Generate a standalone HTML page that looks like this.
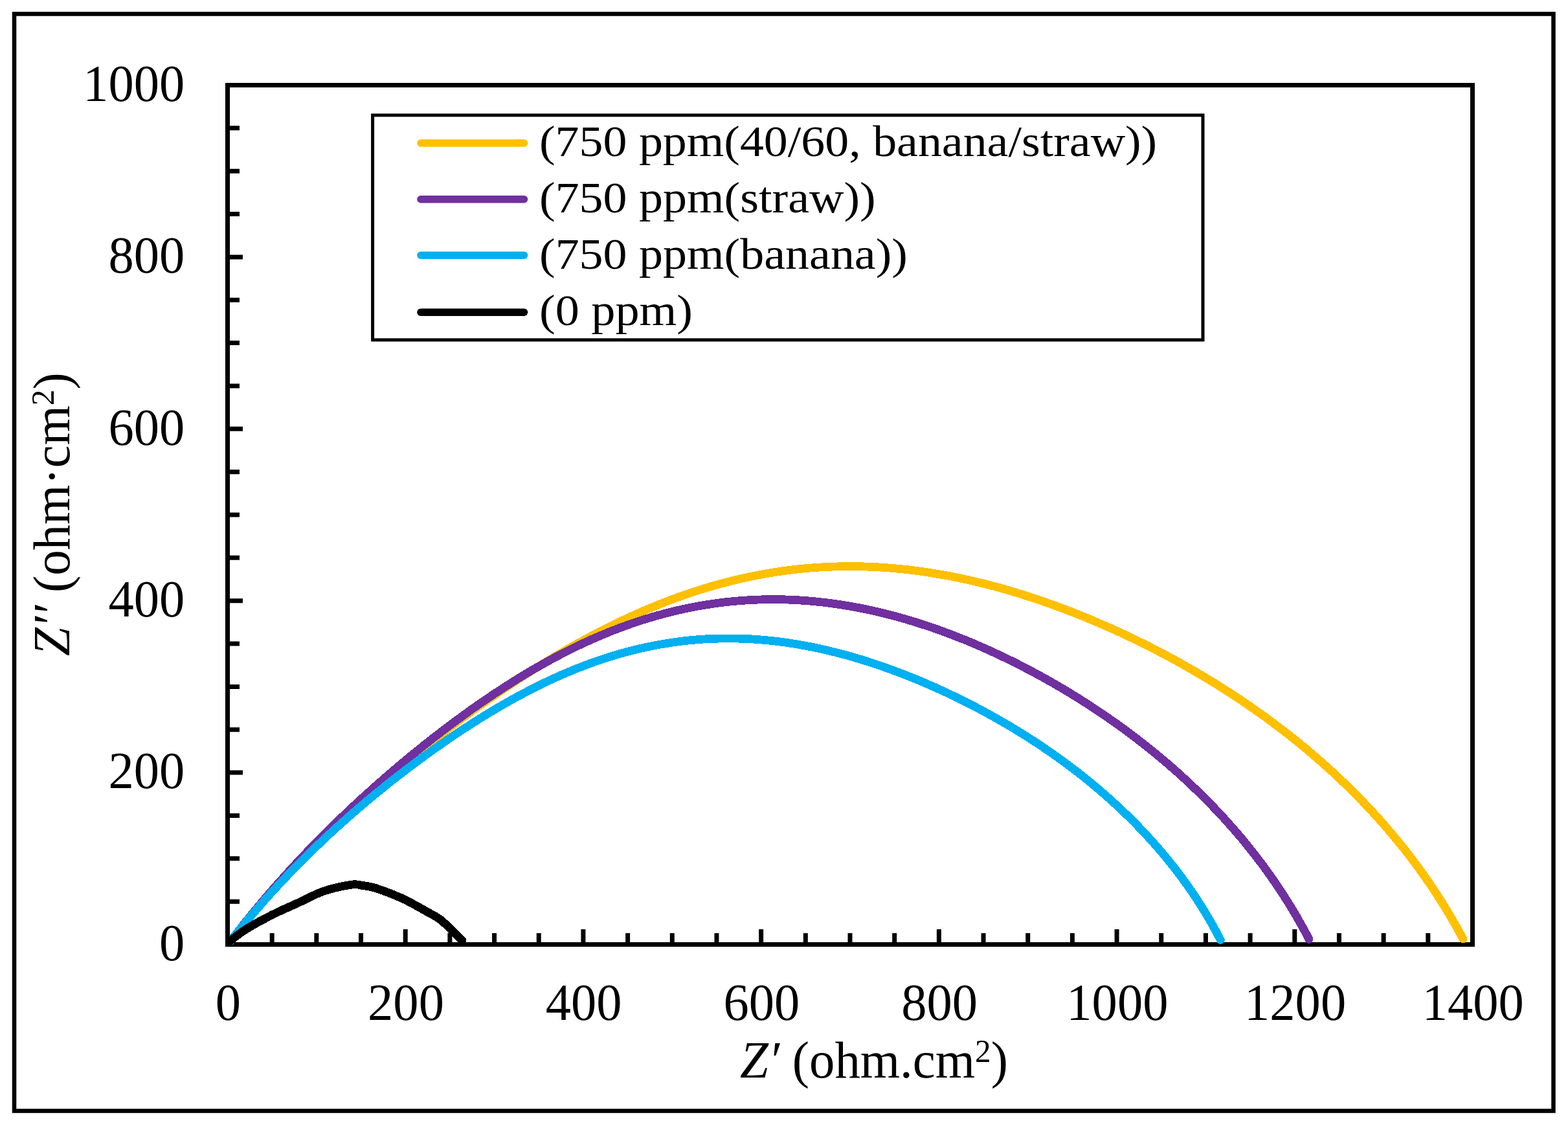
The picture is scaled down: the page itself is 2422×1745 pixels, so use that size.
<!DOCTYPE html>
<html><head><meta charset="utf-8"><title>Nyquist plot</title><style>html,body{margin:0;padding:0;background:#fff;overflow:hidden}svg{display:block}</style></head><body>
<svg width="2422" height="1745" viewBox="0 0 2422 1745">
<defs><clipPath id="pa"><rect x="352" y="132" width="1922" height="1327"/></clipPath>
<clipPath id="pk"><rect x="352" y="132" width="368" height="1327"/></clipPath></defs>
<rect width="2422" height="1745" fill="#fff"/>
<rect x="22" y="21.5" width="2377.5" height="1694" fill="none" stroke="#000" stroke-width="6.5"/>
<g stroke="#000" stroke-width="7" fill="none">
<rect x="351.5" y="131.5" width="1923.0" height="1327.0"/>
<path d="M351.5,1392.15h18.5M351.5,1325.80h18.5M351.5,1259.45h18.5M351.5,1193.10h23.5M351.5,1126.75h18.5M351.5,1060.40h18.5M351.5,994.05h18.5M351.5,927.70h23.5M351.5,861.35h18.5M351.5,795.00h18.5M351.5,728.65h18.5M351.5,662.30h23.5M351.5,595.95h18.5M351.5,529.60h18.5M351.5,463.25h18.5M351.5,396.90h23.5M351.5,330.55h18.5M351.5,264.20h18.5M351.5,197.85h18.5M420.18,1458.5v-17.5M488.86,1458.5v-17.5M557.54,1458.5v-17.5M626.21,1458.5v-23.5M694.89,1458.5v-17.5M763.57,1458.5v-17.5M832.25,1458.5v-17.5M900.93,1458.5v-23.5M969.61,1458.5v-17.5M1038.29,1458.5v-17.5M1106.96,1458.5v-17.5M1175.64,1458.5v-23.5M1244.32,1458.5v-17.5M1313.00,1458.5v-17.5M1381.68,1458.5v-17.5M1450.36,1458.5v-23.5M1519.04,1458.5v-17.5M1587.71,1458.5v-17.5M1656.39,1458.5v-17.5M1725.07,1458.5v-23.5M1793.75,1458.5v-17.5M1862.43,1458.5v-17.5M1931.11,1458.5v-17.5M1999.79,1458.5v-23.5M2068.46,1458.5v-17.5M2137.14,1458.5v-17.5M2205.82,1458.5v-17.5" stroke-linecap="butt"/>
</g>
<g fill="none" stroke-linecap="round" stroke-linejoin="round" clip-path="url(#pa)" shape-rendering="crispEdges">
<path d="M352.4,1458.5 L360.1,1448.6 L367.8,1438.8 L375.5,1429.3 L383.2,1419.8 L390.9,1410.5 L398.6,1401.4 L406.2,1392.4 L413.9,1383.6 L421.5,1374.9 L429.1,1366.3 L436.7,1357.9 L444.2,1349.6 L451.8,1341.5 L459.3,1333.4 L466.8,1325.5 L474.2,1317.8 L481.6,1310.1 L489.0,1302.6 L496.4,1295.2 L503.7,1287.9 L511.1,1280.8 L518.3,1273.7 L525.6,1266.8 L532.8,1259.9 L540.0,1253.2 L547.1,1246.6 L554.2,1240.0 L561.3,1233.6 L568.3,1227.3 L575.3,1221.0 L582.3,1214.9 L589.2,1208.8 L596.1,1202.9 L603.0,1197.0 L609.8,1191.2 L616.6,1185.5 L623.4,1179.9 L630.1,1174.3 L636.8,1168.8 L643.4,1163.4 L650.1,1158.1 L656.6,1152.9 L663.2,1147.7 L669.7,1142.6 L676.2,1137.6 L682.7,1132.6 L689.1,1127.7 L695.5,1122.8 L701.9,1118.0 L708.3,1113.3 L714.6,1108.7 L720.9,1104.1 L727.1,1099.5 L733.4,1095.0 L739.6,1090.6 L745.8,1086.2 L751.9,1081.9 L758.1,1077.6 L764.2,1073.4 L770.3,1069.2 L776.4,1065.1 L782.5,1061.0 L788.5,1057.0 L794.5,1053.0 L800.5,1049.1 L806.5,1045.2 L812.5,1041.4 L818.5,1037.6 L824.4,1033.8 L830.4,1030.1 L836.3,1026.5 L842.2,1022.9 L848.1,1019.3 L854.0,1015.7 L859.9,1012.3 L865.7,1008.8 L871.6,1005.4 L877.5,1002.0 L883.3,998.7 L889.2,995.4 L895.0,992.2 L900.8,989.0 L906.7,985.8 L912.5,982.7 L918.3,979.6 L924.1,976.6 L930.0,973.6 L935.8,970.6 L941.6,967.7 L947.4,964.8 L953.3,962.0 L959.1,959.2 L964.9,956.5 L970.8,953.8 L976.6,951.1 L982.4,948.5 L988.3,945.9 L994.1,943.3 L1000.0,940.8 L1005.8,938.4 L1011.7,936.0 L1017.5,933.6 L1023.4,931.3 L1029.3,929.0 L1035.2,926.7 L1041.1,924.5 L1047.0,922.4 L1052.9,920.3 L1058.8,918.2 L1064.7,916.2 L1070.6,914.2 L1076.5,912.3 L1082.5,910.4 L1088.4,908.6 L1094.3,906.8 L1100.3,905.0 L1106.3,903.3 L1112.2,901.7 L1118.2,900.1 L1124.2,898.5 L1130.2,897.0 L1136.2,895.6 L1142.2,894.1 L1148.2,892.8 L1154.2,891.5 L1160.2,890.2 L1166.3,889.0 L1172.3,887.8 L1178.3,886.7 L1184.4,885.6 L1190.4,884.6 L1196.5,883.6 L1202.6,882.7 L1208.6,881.8 L1214.7,881.0 L1220.8,880.2 L1226.9,879.5 L1232.9,878.8 L1239.0,878.2 L1245.1,877.7 L1251.2,877.1 L1257.3,876.7 L1263.4,876.2 L1269.5,875.9 L1275.6,875.5 L1281.8,875.3 L1287.9,875.0 L1294.0,874.9 L1300.1,874.7 L1306.2,874.7 L1312.3,874.6 L1318.4,874.7 L1324.6,874.7 L1330.7,874.8 L1336.8,875.0 L1342.9,875.2 L1349.0,875.5 L1355.2,875.8 L1361.3,876.2 L1367.4,876.6 L1373.5,877.0 L1379.6,877.5 L1385.8,878.1 L1391.9,878.7 L1398.0,879.3 L1404.1,880.0 L1410.2,880.7 L1416.3,881.5 L1422.5,882.3 L1428.6,883.2 L1434.7,884.1 L1440.8,885.1 L1446.9,886.1 L1453.0,887.1 L1459.1,888.2 L1465.2,889.3 L1471.3,890.5 L1477.4,891.7 L1483.6,893.0 L1489.7,894.3 L1495.8,895.6 L1501.9,897.0 L1508.0,898.5 L1514.1,899.9 L1520.2,901.5 L1526.3,903.0 L1532.4,904.6 L1538.5,906.2 L1544.7,907.9 L1550.8,909.6 L1556.9,911.4 L1563.0,913.2 L1569.2,915.0 L1575.3,916.9 L1581.4,918.8 L1587.6,920.8 L1593.7,922.8 L1599.9,924.8 L1606.0,926.9 L1612.2,929.0 L1618.4,931.2 L1624.5,933.4 L1630.7,935.6 L1636.9,937.9 L1643.1,940.2 L1649.3,942.6 L1655.6,945.0 L1661.8,947.4 L1668.0,949.9 L1674.3,952.4 L1680.5,955.0 L1686.8,957.6 L1693.1,960.3 L1699.4,963.0 L1705.7,965.7 L1712.0,968.5 L1718.4,971.3 L1724.7,974.2 L1731.1,977.1 L1737.5,980.1 L1743.9,983.1 L1750.3,986.2 L1756.7,989.3 L1763.2,992.5 L1769.7,995.7 L1776.1,998.9 L1782.6,1002.3 L1789.2,1005.6 L1795.7,1009.1 L1802.3,1012.5 L1808.8,1016.1 L1815.4,1019.6 L1822.0,1023.3 L1828.6,1027.0 L1835.3,1030.8 L1842.0,1034.6 L1848.6,1038.5 L1855.3,1042.4 L1862.1,1046.4 L1868.8,1050.5 L1875.6,1054.6 L1882.3,1058.8 L1889.1,1063.1 L1895.9,1067.5 L1902.8,1071.9 L1909.6,1076.4 L1916.4,1080.9 L1923.3,1085.6 L1930.2,1090.3 L1937.1,1095.1 L1944.0,1100.0 L1950.9,1104.9 L1957.9,1109.9 L1964.8,1115.1 L1971.8,1120.3 L1978.7,1125.5 L1985.7,1130.9 L1992.7,1136.4 L1999.7,1141.9 L2006.7,1147.6 L2013.7,1153.3 L2020.7,1159.1 L2027.6,1165.1 L2034.6,1171.1 L2041.6,1177.2 L2048.6,1183.4 L2055.6,1189.7 L2062.5,1196.1 L2069.5,1202.7 L2076.4,1209.3 L2083.3,1216.0 L2090.3,1222.9 L2097.1,1229.8 L2104.0,1236.9 L2110.8,1244.0 L2117.7,1251.3 L2124.4,1258.7 L2131.2,1266.2 L2137.9,1273.8 L2144.6,1281.5 L2151.2,1289.3 L2157.8,1297.3 L2164.4,1305.3 L2170.9,1313.5 L2177.3,1321.8 L2183.7,1330.2 L2190.0,1338.7 L2196.3,1347.4 L2202.5,1356.1 L2208.6,1365.0 L2214.6,1374.0 L2220.6,1383.1 L2226.5,1392.3 L2232.3,1401.6 L2238.0,1411.1 L2243.6,1420.6 L2249.2,1430.3 L2254.6,1440.1 L2259.9,1450.0" stroke="#FFC000" stroke-width="12.8"/>
<path d="M352.1,1458.5 L358.7,1449.8 L365.4,1441.3 L372.0,1432.9 L378.6,1424.6 L385.2,1416.5 L391.8,1408.5 L398.3,1400.6 L404.9,1392.8 L411.4,1385.2 L417.9,1377.6 L424.3,1370.2 L430.8,1362.9 L437.2,1355.8 L443.6,1348.7 L449.9,1341.7 L456.2,1334.9 L462.6,1328.1 L468.8,1321.5 L475.1,1314.9 L481.3,1308.5 L487.5,1302.1 L493.6,1295.9 L499.8,1289.7 L505.9,1283.6 L512.0,1277.6 L518.0,1271.7 L524.0,1265.9 L530.0,1260.1 L535.9,1254.4 L541.9,1248.9 L547.8,1243.3 L553.6,1237.9 L559.5,1232.5 L565.3,1227.2 L571.1,1222.0 L576.8,1216.9 L582.5,1211.8 L588.2,1206.8 L593.9,1201.8 L599.6,1196.9 L605.2,1192.1 L610.8,1187.3 L616.4,1182.6 L621.9,1177.9 L627.4,1173.3 L632.9,1168.8 L638.4,1164.3 L643.9,1159.9 L649.3,1155.5 L654.7,1151.1 L660.1,1146.9 L665.5,1142.6 L670.9,1138.4 L676.2,1134.3 L681.5,1130.2 L686.8,1126.1 L692.1,1122.1 L697.4,1118.2 L702.7,1114.3 L707.9,1110.4 L713.2,1106.6 L718.4,1102.8 L723.6,1099.0 L728.8,1095.3 L734.0,1091.6 L739.2,1088.0 L744.4,1084.4 L749.6,1080.9 L754.8,1077.4 L759.9,1073.9 L765.1,1070.4 L770.2,1067.1 L775.4,1063.7 L780.5,1060.4 L785.7,1057.1 L790.8,1053.8 L795.9,1050.6 L801.1,1047.4 L806.2,1044.3 L811.4,1041.2 L816.5,1038.1 L821.6,1035.1 L826.8,1032.1 L831.9,1029.2 L837.1,1026.3 L842.2,1023.4 L847.4,1020.5 L852.5,1017.7 L857.7,1015.0 L862.9,1012.2 L868.0,1009.5 L873.2,1006.9 L878.4,1004.3 L883.6,1001.7 L888.8,999.1 L894.0,996.6 L899.2,994.2 L904.4,991.8 L909.6,989.4 L914.9,987.0 L920.1,984.7 L925.4,982.5 L930.6,980.2 L935.9,978.1 L941.2,975.9 L946.5,973.8 L951.8,971.7 L957.1,969.7 L962.4,967.8 L967.7,965.8 L973.1,963.9 L978.4,962.1 L983.8,960.3 L989.1,958.5 L994.5,956.8 L999.9,955.1 L1005.3,953.5 L1010.7,951.9 L1016.1,950.4 L1021.5,948.9 L1026.9,947.4 L1032.4,946.0 L1037.8,944.6 L1043.3,943.3 L1048.7,942.1 L1054.2,940.8 L1059.7,939.7 L1065.2,938.5 L1070.6,937.5 L1076.1,936.4 L1081.6,935.4 L1087.2,934.5 L1092.7,933.6 L1098.2,932.8 L1103.7,932.0 L1109.3,931.2 L1114.8,930.5 L1120.3,929.8 L1125.9,929.2 L1131.4,928.7 L1137.0,928.2 L1142.6,927.7 L1148.1,927.3 L1153.7,926.9 L1159.3,926.6 L1164.8,926.3 L1170.4,926.1 L1176.0,925.9 L1181.6,925.8 L1187.1,925.7 L1192.7,925.7 L1198.3,925.7 L1203.9,925.7 L1209.5,925.8 L1215.1,926.0 L1220.6,926.2 L1226.2,926.4 L1231.8,926.7 L1237.4,927.1 L1243.0,927.5 L1248.6,927.9 L1254.1,928.4 L1259.7,928.9 L1265.3,929.5 L1270.9,930.1 L1276.4,930.7 L1282.0,931.4 L1287.6,932.2 L1293.1,933.0 L1298.7,933.8 L1304.3,934.7 L1309.8,935.6 L1315.4,936.6 L1320.9,937.6 L1326.5,938.6 L1332.0,939.7 L1337.6,940.8 L1343.1,942.0 L1348.7,943.2 L1354.2,944.5 L1359.8,945.8 L1365.3,947.1 L1370.8,948.5 L1376.3,950.0 L1381.9,951.4 L1387.4,952.9 L1392.9,954.5 L1398.4,956.1 L1404.0,957.7 L1409.5,959.3 L1415.0,961.0 L1420.5,962.8 L1426.0,964.6 L1431.5,966.4 L1437.1,968.2 L1442.6,970.1 L1448.1,972.1 L1453.6,974.0 L1459.1,976.1 L1464.6,978.1 L1470.2,980.2 L1475.7,982.3 L1481.2,984.5 L1486.7,986.7 L1492.3,988.9 L1497.8,991.2 L1503.3,993.5 L1508.8,995.9 L1514.4,998.3 L1519.9,1000.7 L1525.5,1003.2 L1531.0,1005.7 L1536.6,1008.3 L1542.2,1010.9 L1547.7,1013.5 L1553.3,1016.2 L1558.9,1018.9 L1564.5,1021.6 L1570.1,1024.4 L1575.7,1027.3 L1581.3,1030.2 L1586.9,1033.1 L1592.6,1036.1 L1598.2,1039.1 L1603.8,1042.1 L1609.5,1045.2 L1615.2,1048.4 L1620.8,1051.6 L1626.5,1054.8 L1632.2,1058.1 L1637.9,1061.4 L1643.6,1064.8 L1649.4,1068.2 L1655.1,1071.7 L1660.8,1075.3 L1666.6,1078.8 L1672.4,1082.5 L1678.2,1086.2 L1683.9,1089.9 L1689.7,1093.7 L1695.6,1097.6 L1701.4,1101.5 L1707.2,1105.5 L1713.0,1109.5 L1718.9,1113.6 L1724.8,1117.7 L1730.6,1121.9 L1736.5,1126.2 L1742.4,1130.5 L1748.3,1134.9 L1754.2,1139.4 L1760.1,1144.0 L1766.0,1148.6 L1771.9,1153.2 L1777.8,1158.0 L1783.8,1162.8 L1789.7,1167.7 L1795.6,1172.6 L1801.6,1177.7 L1807.5,1182.8 L1813.4,1188.0 L1819.4,1193.2 L1825.3,1198.6 L1831.2,1204.0 L1837.1,1209.5 L1843.0,1215.1 L1848.9,1220.8 L1854.8,1226.5 L1860.7,1232.3 L1866.6,1238.3 L1872.4,1244.3 L1878.3,1250.4 L1884.1,1256.6 L1889.9,1262.8 L1895.7,1269.2 L1901.4,1275.7 L1907.2,1282.2 L1912.9,1288.9 L1918.6,1295.6 L1924.2,1302.4 L1929.8,1309.4 L1935.4,1316.4 L1940.9,1323.5 L1946.4,1330.7 L1951.9,1338.0 L1957.3,1345.4 L1962.6,1352.9 L1967.9,1360.5 L1973.2,1368.2 L1978.4,1376.0 L1983.5,1383.9 L1988.6,1391.9 L1993.6,1400.0 L1998.5,1408.2 L2003.4,1416.4 L2008.1,1424.8 L2012.9,1433.3 L2017.5,1441.8 L2022.0,1450.5" stroke="#7030A0" stroke-width="12.8"/>
<path d="M351.8,1458.5 L358.0,1450.5 L364.3,1442.7 L370.6,1435.0 L376.8,1427.4 L383.0,1419.9 L389.3,1412.6 L395.5,1405.4 L401.6,1398.3 L407.8,1391.3 L413.9,1384.4 L420.1,1377.6 L426.2,1371.0 L432.2,1364.4 L438.3,1358.0 L444.3,1351.6 L450.3,1345.4 L456.3,1339.3 L462.2,1333.2 L468.2,1327.3 L474.1,1321.4 L479.9,1315.6 L485.8,1310.0 L491.6,1304.4 L497.4,1298.9 L503.1,1293.5 L508.8,1288.1 L514.5,1282.9 L520.2,1277.7 L525.8,1272.6 L531.5,1267.6 L537.0,1262.6 L542.6,1257.8 L548.1,1253.0 L553.6,1248.2 L559.1,1243.6 L564.5,1239.0 L569.9,1234.4 L575.3,1229.9 L580.6,1225.5 L586.0,1221.2 L591.3,1216.9 L596.5,1212.6 L601.8,1208.5 L607.0,1204.3 L612.2,1200.3 L617.4,1196.2 L622.5,1192.3 L627.6,1188.4 L632.7,1184.5 L637.8,1180.7 L642.9,1176.9 L647.9,1173.2 L652.9,1169.5 L657.9,1165.9 L662.9,1162.3 L667.8,1158.7 L672.7,1155.2 L677.7,1151.8 L682.6,1148.3 L687.4,1145.0 L692.3,1141.6 L697.2,1138.3 L702.0,1135.0 L706.8,1131.8 L711.6,1128.6 L716.4,1125.5 L721.2,1122.4 L726.0,1119.3 L730.8,1116.2 L735.5,1113.2 L740.3,1110.2 L745.0,1107.3 L749.7,1104.4 L754.4,1101.5 L759.2,1098.7 L763.9,1095.9 L768.6,1093.1 L773.3,1090.3 L778.0,1087.6 L782.7,1085.0 L787.3,1082.3 L792.0,1079.7 L796.7,1077.1 L801.4,1074.6 L806.1,1072.1 L810.8,1069.6 L815.4,1067.2 L820.1,1064.7 L824.8,1062.4 L829.5,1060.0 L834.2,1057.7 L838.8,1055.4 L843.5,1053.2 L848.2,1050.9 L852.9,1048.8 L857.6,1046.6 L862.3,1044.5 L867.0,1042.4 L871.7,1040.4 L876.4,1038.4 L881.2,1036.4 L885.9,1034.4 L890.6,1032.5 L895.3,1030.7 L900.1,1028.8 L904.8,1027.0 L909.6,1025.3 L914.3,1023.5 L919.1,1021.8 L923.9,1020.2 L928.6,1018.6 L933.4,1017.0 L938.2,1015.4 L943.0,1013.9 L947.8,1012.4 L952.6,1011.0 L957.4,1009.6 L962.2,1008.3 L967.1,1006.9 L971.9,1005.7 L976.7,1004.4 L981.6,1003.2 L986.4,1002.1 L991.3,1000.9 L996.1,999.9 L1001.0,998.8 L1005.9,997.8 L1010.7,996.8 L1015.6,995.9 L1020.5,995.0 L1025.4,994.2 L1030.3,993.4 L1035.2,992.6 L1040.1,991.9 L1045.0,991.2 L1049.9,990.6 L1054.9,990.0 L1059.8,989.4 L1064.7,988.9 L1069.6,988.4 L1074.6,988.0 L1079.5,987.6 L1084.4,987.2 L1089.4,986.9 L1094.3,986.7 L1099.3,986.4 L1104.2,986.2 L1109.2,986.1 L1114.1,986.0 L1119.1,985.9 L1124.0,985.9 L1129.0,985.9 L1133.9,986.0 L1138.9,986.0 L1143.8,986.2 L1148.8,986.4 L1153.7,986.6 L1158.7,986.8 L1163.7,987.1 L1168.6,987.4 L1173.6,987.8 L1178.5,988.2 L1183.5,988.7 L1188.4,989.1 L1193.4,989.7 L1198.3,990.2 L1203.3,990.8 L1208.2,991.5 L1213.2,992.1 L1218.1,992.8 L1223.0,993.6 L1228.0,994.4 L1232.9,995.2 L1237.9,996.1 L1242.8,997.0 L1247.8,997.9 L1252.7,998.8 L1257.6,999.8 L1262.6,1000.9 L1267.5,1001.9 L1272.4,1003.1 L1277.4,1004.2 L1282.3,1005.4 L1287.2,1006.6 L1292.2,1007.8 L1297.1,1009.1 L1302.1,1010.4 L1307.0,1011.7 L1311.9,1013.1 L1316.9,1014.5 L1321.8,1016.0 L1326.8,1017.4 L1331.7,1018.9 L1336.7,1020.5 L1341.6,1022.0 L1346.6,1023.7 L1351.5,1025.3 L1356.5,1027.0 L1361.5,1028.7 L1366.4,1030.4 L1371.4,1032.2 L1376.4,1034.0 L1381.4,1035.8 L1386.4,1037.7 L1391.4,1039.6 L1396.4,1041.5 L1401.4,1043.5 L1406.4,1045.5 L1411.4,1047.5 L1416.5,1049.5 L1421.5,1051.6 L1426.6,1053.8 L1431.6,1055.9 L1436.7,1058.2 L1441.8,1060.4 L1446.9,1062.7 L1452.0,1065.0 L1457.1,1067.3 L1462.2,1069.7 L1467.3,1072.1 L1472.5,1074.6 L1477.7,1077.1 L1482.8,1079.6 L1488.0,1082.2 L1493.2,1084.8 L1498.4,1087.5 L1503.7,1090.1 L1508.9,1092.9 L1514.1,1095.7 L1519.4,1098.5 L1524.7,1101.4 L1530.0,1104.3 L1535.3,1107.2 L1540.6,1110.2 L1546.0,1113.3 L1551.3,1116.4 L1556.7,1119.5 L1562.1,1122.7 L1567.5,1126.0 L1572.9,1129.3 L1578.3,1132.6 L1583.8,1136.0 L1589.2,1139.5 L1594.7,1143.0 L1600.2,1146.6 L1605.7,1150.2 L1611.2,1153.9 L1616.7,1157.7 L1622.3,1161.5 L1627.8,1165.4 L1633.4,1169.3 L1638.9,1173.3 L1644.5,1177.4 L1650.1,1181.5 L1655.7,1185.7 L1661.3,1190.0 L1666.9,1194.3 L1672.5,1198.7 L1678.1,1203.2 L1683.7,1207.8 L1689.3,1212.4 L1694.9,1217.1 L1700.5,1221.9 L1706.1,1226.8 L1711.7,1231.7 L1717.3,1236.7 L1722.9,1241.8 L1728.5,1247.0 L1734.1,1252.3 L1739.6,1257.6 L1745.2,1263.0 L1750.7,1268.5 L1756.2,1274.1 L1761.7,1279.8 L1767.2,1285.6 L1772.6,1291.5 L1778.1,1297.4 L1783.5,1303.5 L1788.8,1309.6 L1794.1,1315.8 L1799.4,1322.1 L1804.7,1328.6 L1809.9,1335.1 L1815.1,1341.6 L1820.2,1348.3 L1825.3,1355.1 L1830.3,1362.0 L1835.3,1368.9 L1840.2,1376.0 L1845.0,1383.1 L1849.8,1390.4 L1854.5,1397.7 L1859.1,1405.1 L1863.7,1412.6 L1868.2,1420.2 L1872.6,1427.9 L1876.9,1435.7 L1881.1,1443.6 L1885.3,1451.5" stroke="#00B0F0" stroke-width="12.8"/>
</g>
<path d="M346.0,1460.0 C346.9,1459.3 345.8,1460.2 351.5,1456.0 C357.2,1451.8 368.6,1442.2 380.0,1435.0 C391.4,1427.8 406.7,1419.7 420.0,1412.9 C433.3,1406.2 446.7,1400.6 460.0,1394.5 C473.3,1388.4 486.2,1380.9 500.0,1376.2 C513.8,1371.5 533.0,1367.7 543.0,1366.2 C553.0,1364.8 553.8,1366.6 560.0,1367.5 C566.2,1368.4 570.0,1368.2 580.0,1371.4 C590.0,1374.6 610.0,1382.5 620.0,1386.8 C630.0,1391.1 633.3,1393.4 640.0,1397.0 C646.7,1400.6 653.3,1404.4 660.0,1408.2 C666.7,1412.0 673.3,1414.9 680.0,1420.0 C686.7,1425.1 692.0,1430.8 700.0,1438.6 C708.0,1446.3 723.3,1461.8 728.0,1466.5" fill="none" stroke="#000" stroke-width="12.8" stroke-linejoin="round" clip-path="url(#pk)" shape-rendering="crispEdges"/>
<g font-family="Liberation Serif, serif" font-size="81" fill="#000">
<text transform="translate(285.4,1482.7) scale(0.97,1)" text-anchor="end">0</text>
<text transform="translate(285.4,1217.3) scale(0.97,1)" text-anchor="end">200</text>
<text transform="translate(285.4,951.9) scale(0.97,1)" text-anchor="end">400</text>
<text transform="translate(285.4,686.5) scale(0.97,1)" text-anchor="end">600</text>
<text transform="translate(285.4,421.1) scale(0.97,1)" text-anchor="end">800</text>
<text transform="translate(285.4,155.7) scale(0.97,1)" text-anchor="end">1000</text>
<text transform="translate(352.3,1575.0) scale(0.97,1)" text-anchor="middle">0</text>
<text transform="translate(627.0,1575.0) scale(0.97,1)" text-anchor="middle">200</text>
<text transform="translate(901.7,1575.0) scale(0.97,1)" text-anchor="middle">400</text>
<text transform="translate(1176.4,1575.0) scale(0.97,1)" text-anchor="middle">600</text>
<text transform="translate(1451.2,1575.0) scale(0.97,1)" text-anchor="middle">800</text>
<text transform="translate(1725.9,1575.0) scale(0.97,1)" text-anchor="middle">1000</text>
<text transform="translate(2000.6,1575.0) scale(0.97,1)" text-anchor="middle">1200</text>
<text transform="translate(2275.3,1575.0) scale(0.97,1)" text-anchor="middle">1400</text>
</g>
<g transform="translate(1145.5,0) scale(0.985,1) translate(-1145.5,0)"><text x="1143" y="1664.4" font-family="Liberation Serif, serif" font-size="80"><tspan font-style="italic">Z′</tspan> (ohm.cm<tspan font-size="50" dy="-24">2</tspan><tspan dy="24">)</tspan></text></g>
<text transform="translate(107,1013) rotate(-90) scale(0.985,1)" font-family="Liberation Serif, serif" font-size="80"><tspan font-style="italic">Z′′</tspan> (ohm·cm<tspan font-size="50" dy="-24">2</tspan><tspan dy="24">)</tspan></text>
<rect x="575.6" y="177.9" width="1282.4" height="347" fill="#fff" stroke="#000" stroke-width="5"/>
<line x1="650" y1="221.0" x2="809.5" y2="221.0" stroke="#FFC000" stroke-width="11.6" stroke-linecap="round"/>
<text transform="translate(833,240.9) scale(1.087,1)" font-family="Liberation Serif, serif" font-size="68">(750 ppm(40/60, banana/straw))</text>
<line x1="650" y1="307.7" x2="809.5" y2="307.7" stroke="#7030A0" stroke-width="11.6" stroke-linecap="round"/>
<text transform="translate(833,327.8) scale(1.088,1)" font-family="Liberation Serif, serif" font-size="68">(750 ppm(straw))</text>
<line x1="650" y1="394.2" x2="809.5" y2="394.2" stroke="#00B0F0" stroke-width="11.6" stroke-linecap="round"/>
<text transform="translate(833,414.7) scale(1.088,1)" font-family="Liberation Serif, serif" font-size="68">(750 ppm(banana))</text>
<line x1="650" y1="482.2" x2="809.5" y2="482.2" stroke="#000" stroke-width="11.6" stroke-linecap="round"/>
<text transform="translate(833,501.6) scale(1.091,1)" font-family="Liberation Serif, serif" font-size="68">(0 ppm)</text>
</svg>
</body></html>
